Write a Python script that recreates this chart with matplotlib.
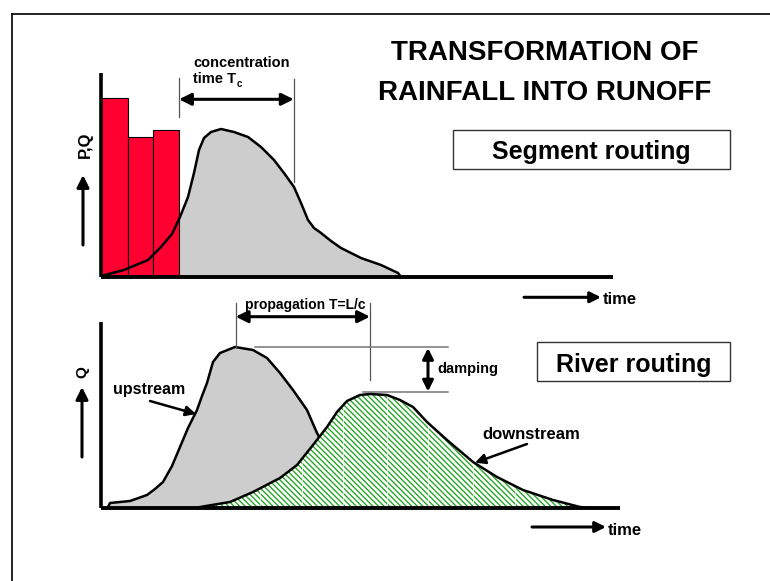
import matplotlib
matplotlib.use("Agg")
import matplotlib.pyplot as plt
from matplotlib.patches import Rectangle

plt.rcParams['font.family'] = ['Liberation Sans', 'DejaVu Sans']
plt.rcParams['font.weight'] = 'bold'
plt.rcParams['hatch.linewidth'] = 1.0

# ---------------- data ----------------
# rainfall blocks (segment routing panel)
rain_start = [0.0, 2.67, 5.23]
rain_width = [2.67, 2.56, 2.54]
rain_height = [17.9, 14.0, 14.7]

# runoff hydrograph (segment routing panel)
seg_t = [0.0, 2.3, 4.7, 6.0, 7.1, 7.9, 8.7, 9.3, 9.8, 10.3, 11.0, 12.0, 13.3, 14.7,
         16.0, 17.3, 18.3, 19.3, 20.0, 20.7, 21.3, 22.0, 23.0, 24.0, 26.0, 28.0, 29.7, 30.0]
seg_q = [0.1, 0.7, 1.7, 3.0, 4.3, 6.0, 8.0, 10.4, 12.7, 13.9, 14.5, 14.8, 14.5, 14.0,
         13.0, 11.7, 10.4, 9.0, 7.4, 5.7, 4.9, 4.4, 3.6, 2.9, 1.9, 1.2, 0.4, 0.0]

# upstream hydrograph (river routing panel)
up_t = [0.7, 0.9, 2.9, 4.6, 5.4, 6.2, 7.1, 7.9, 8.7, 9.6, 10.1, 10.6, 11.2, 11.9,
        13.4, 15.2, 16.6, 17.9, 19.2, 20.6, 21.6, 22.9, 24.4, 25.9, 27.9]
up_q = [0.1, 0.5, 0.7, 1.3, 1.9, 2.6, 4.2, 6.1, 8.0, 9.8, 11.2, 12.5, 14.6, 15.5,
        16.1, 15.8, 15.0, 13.5, 11.8, 9.8, 7.5, 5.0, 2.6, 1.0, 0.1]

# downstream hydrograph (river routing panel)
down_t = [9.9, 12.9, 15.2, 17.9, 19.6, 21.2, 22.6, 23.6, 24.6, 25.9, 26.9, 28.6,
          29.9, 31.2, 32.6, 34.6, 37.2, 39.6, 42.2, 45.2, 47.9, 48.9]
down_q = [0.1, 0.6, 1.6, 3.0, 4.3, 6.3, 8.1, 9.6, 10.7, 11.3, 11.4, 11.3,
          10.8, 10.1, 8.6, 6.8, 4.6, 3.1, 1.8, 0.8, 0.1, 0.0]

title_lines = ["TRANSFORMATION OF", "RAINFALL INTO RUNOFF"]

# ---------------- figure ----------------
W, H = 770, 581
fig = plt.figure(figsize=(7.7, 5.81), dpi=100)
bg = fig.add_axes([0, 0, 1, 1])
bg.set_xlim(0, W)
bg.set_ylim(H, 0)
bg.axis('off')


def panel(x0, x1, ybot, ytop):
    ax = fig.add_axes([x0 / W, 1 - ybot / H, (x1 - x0) / W, (ybot - ytop) / H])
    ax.set_xlim(0, (x1 - x0) / 10)
    ax.set_ylim(0, (ybot - ytop) / 10)
    ax.axis('off')
    ax.patch.set_alpha(0)
    return ax


def arrow(ax, p0, p1, style='-|>', lw=2.2, ms=18, color='k'):
    ax.annotate('', xy=p1, xytext=p0, xycoords='data', textcoords='data',
                annotation_clip=False,
                arrowprops=dict(arrowstyle=style, lw=lw, color=color,
                                shrinkA=0, shrinkB=0, mutation_scale=ms))


# border
bg.plot([12, W + 5], [14, 14], color='#111111', lw=1.3)
bg.plot([12, 12], [14, H + 5], color='#111111', lw=1.3)

# title
bg.text(545, 60, title_lines[0], ha='center', va='baseline', fontsize=20)
bg.text(545, 100, title_lines[1], ha='center', va='baseline', fontsize=20)

# ---------- top panel: segment routing ----------
ax1 = panel(101, 621, 277, 67)
ax1.fill_between(seg_t, seg_q, color='#cdcdcd', lw=0, zorder=1)
ax1.bar(rain_start, rain_height, width=rain_width, align='edge',
        color='#ff0030', edgecolor='k', lw=0.8, zorder=2)
ax1.plot(seg_t, seg_q, color='k', lw=1.8, zorder=3, solid_joinstyle='round')
ax1.plot([0, 0], [0, 20.4], color='k', lw=2.6, solid_capstyle='butt', clip_on=False, zorder=4)
ax1.plot([0, 51.2], [0, 0], color='k', lw=2.8, solid_capstyle='butt', clip_on=False, zorder=4)

# concentration time
ax1.plot([7.8, 7.8], [16.0, 19.9], color='#555555', lw=0.9, clip_on=False)
ax1.plot([19.27, 19.27], [9.5, 19.8], color='#555555', lw=0.9, clip_on=False)
arrow(ax1, (7.8, 17.77), (19.27, 17.77), style='<|-|>', lw=2.2, ms=18)
bg.text(193, 66.7, "concentration", ha='left', va='baseline', fontsize=10.5)
bg.text(193, 83.3, "time T", ha='left', va='baseline', fontsize=10.5)
bg.text(237, 87, "c", ha='left', va='baseline', fontsize=7)

# y label + arrow
bg.text(85, 145, "P,Q", rotation=90, ha='center', va='center', fontsize=12)
arrow(bg, (83, 245), (83, 175), lw=2.2, ms=18)

# time arrow
arrow(bg, (524, 297.3), (601, 297.3), lw=2.2, ms=16)
bg.text(603, 304, "time", ha='left', va='baseline', fontsize=12)

# segment routing box
bg.add_patch(Rectangle((453, 130), 277, 39, fill=False, lw=1.0, edgecolor='#333333'))
bg.text(591.5, 159, "Segment routing", ha='center', va='baseline', fontsize=18)

# ---------- bottom panel: river routing ----------
ax2 = panel(101, 621, 508, 298)
green = '#2aa52a'
ax2.fill_between(up_t, up_q, color='#cdcdcd', lw=0, zorder=1)
ax2.plot(up_t, up_q, color='k', lw=1.8, zorder=1.5, solid_joinstyle='round')
poly = ax2.fill_between(down_t, down_q, facecolor='white', edgecolor=green,
                        hatch='\\' * 6, lw=0, zorder=2)
# faint white vertical streaks seen in the original hatch
streaks = ax2.vlines([11.6, 15.9, 20.1, 24.2, 28.6, 32.7, 37.2, 41.4], 0, 12,
                     colors='white', lw=0.6, alpha=0.8, zorder=2.1)
streaks.set_clip_path(poly.get_paths()[0], ax2.transData)
ax2.plot(down_t, down_q, color='k', lw=1.8, zorder=3, solid_joinstyle='round')
ax2.plot([0, 0], [0, 18.6], color='k', lw=2.6, solid_capstyle='butt', clip_on=False, zorder=4)
ax2.plot([0, 51.9], [0, 0], color='k', lw=2.8, solid_capstyle='butt', clip_on=False, zorder=4)

# propagation
ax2.plot([13.47, 13.47], [16.1, 20.5], color='#555555', lw=0.9, clip_on=False)
ax2.plot([26.9, 26.9], [12.8, 20.5], color='#555555', lw=0.9, clip_on=False)
arrow(ax2, (13.47, 19.13), (26.9, 19.13), style='<|-|>', lw=2.2, ms=18)
bg.text(245, 309, "propagation T=L/c", ha='left', va='baseline', fontsize=10)

# damping
ax2.plot([15.4, 34.7], [16.1, 16.1], color='#777777', lw=1.1, clip_on=False)
ax2.plot([26.2, 34.7], [11.6, 11.6], color='#777777', lw=1.1, clip_on=False)
arrow(ax2, (32.7, 11.65), (32.7, 16.0), style='<|-|>', lw=2.2, ms=16)
bg.text(437, 373, "damping", ha='left', va='baseline', fontsize=10.5)

# labels with pointers
bg.text(113, 394, "upstream", ha='left', va='baseline', fontsize=11.5)
arrow(bg, (150, 401), (196, 414), lw=1.8, ms=15)
bg.text(482, 439, "downstream", ha='left', va='baseline', fontsize=12)
arrow(bg, (527, 444), (475, 462.7), lw=1.8, ms=15)

# y label + arrow
bg.text(82, 372, "Q", rotation=90, ha='center', va='center', fontsize=11)
arrow(bg, (82, 457), (82, 387), lw=2.2, ms=18)

# time arrow
arrow(bg, (532, 527), (606, 527), lw=2.2, ms=16)
bg.text(608, 535, "time", ha='left', va='baseline', fontsize=12)

# river routing box
bg.add_patch(Rectangle((537, 342), 193, 39, fill=False, lw=1.0, edgecolor='#333333'))
bg.text(633.5, 371.7, "River routing", ha='center', va='baseline', fontsize=18)

fig.savefig("out.png", dpi=100)
